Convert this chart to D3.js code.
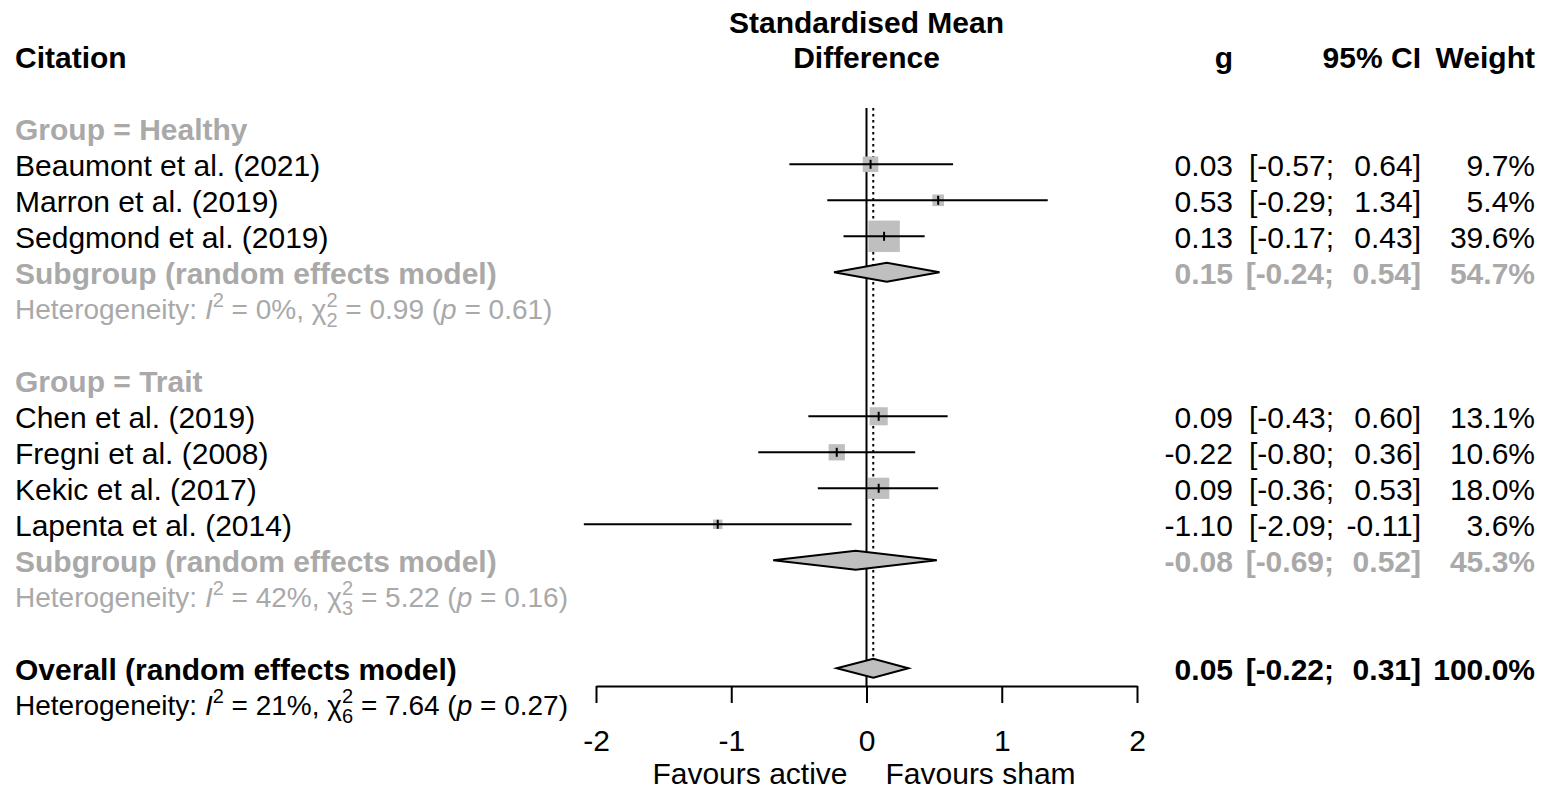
<!DOCTYPE html>
<html lang="en">
<head>
    <meta charset="UTF-8">
    <title>Forest plot</title>
    <script src="https://d3js.org/d3.v7.min.js"></script>
    <style>
        body { margin: 0; background: #fff; }
        text { font-family: "Liberation Sans", Arial, sans-serif; white-space: pre; }
    </style>
</head>
<body>
<script>
    const width = 1547
    const height = 791

    // study level data
    const citations = ["Beaumont et al. (2021)", "Marron et al. (2019)", "Sedgmond et al. (2019)",
        "Chen et al. (2019)", "Fregni et al. (2008)", "Kekic et al. (2017)", "Lapenta et al. (2014)"]
    const studyGroup = ["Healthy", "Healthy", "Healthy", "Trait", "Trait", "Trait", "Trait"]
    const g = [0.03, 0.53, 0.13, 0.09, -0.22, 0.09, -1.10]
    const ciLower = [-0.57, -0.29, -0.17, -0.43, -0.80, -0.36, -2.09]
    const ciUpper = [0.64, 1.34, 0.43, 0.60, 0.36, 0.53, -0.11]
    const weights = [9.7, 5.4, 39.6, 13.1, 10.6, 18.0, 3.6]

    // subgroup summaries
    const subgroups = ["Healthy", "Trait"]
    const subG = [0.15, -0.08]
    const subLower = [-0.24, -0.69]
    const subUpper = [0.54, 0.52]
    const subWeight = [54.7, 45.3]

    // overall
    const overallG = 0.05
    const overallLower = -0.22
    const overallUpper = 0.31

    // heterogeneity: Healthy, Trait, Overall
    const hetI2 = ["0%", "42%", "21%"]
    const hetDf = ["2", "3", "6"]
    const hetQ = ["0.99", "5.22", "7.64"]
    const hetP = ["0.61", "0.16", "0.27"]

    const xTicks = [-2, -1, 0, 1, 2]

    const grey = "#a9a9a9"
    const boxFill = "#bfbfbf"
    const fs = 30
    const fsHet = 28
    const lw = 2

    let svg = d3.select("body").append("svg")
        .attr("width", width)
        .attr("height", height)
        .attr("viewBox", `0 0 ${width} ${height}`)

    const x = d3.scaleLinear().domain([-2, 2]).range([596, 1137])
    const y = d3.scaleLinear().domain([0, 18]).range([56.3, 704.3])
    const boxSize = d3.scaleSqrt().domain([0, 100]).range([0, 50])

    // build the rows
    let rows = []
    rows.push({type: "header", i: 0})
    let r = 2
    subgroups.forEach((sg, k) => {
        rows.push({type: "group", i: r++, label: "Group = " + sg})
        citations.forEach((c, j) => {
            if (studyGroup[j] === sg) rows.push({type: "study", i: r++, j: j})
        })
        rows.push({type: "sub", i: r++, k: k})
        rows.push({type: "het", i: r++, k: k, col: grey})
        r++
    })
    rows.push({type: "overall", i: r++})
    rows.push({type: "het", i: r++, k: 2, col: "#000"})

    const xLeft = 15
    const xG = 1233
    const xLo = 1334
    const xUp = 1421
    const xW = 1535

    function txt(px, py, s, opts = {}) {
        return svg.append("text")
            .attr("x", px).attr("y", py)
            .attr("font-size", opts.size || fs)
            .attr("font-weight", opts.bold ? "bold" : "normal")
            .attr("fill", opts.col || "#000")
            .attr("text-anchor", opts.anchor || "start")
            .text(s)
    }

    function numCols(row, est, lo, up, w, opts) {
        const b = y(row) + 11.5
        txt(xG, b, est.toFixed(2), {...opts, anchor: "end"})
        txt(xLo, b, "[" + lo.toFixed(2) + ";", {...opts, anchor: "end"})
        txt(xUp, b, up.toFixed(2) + "]", {...opts, anchor: "end"})
        txt(xW, b, w.toFixed(1) + "%", {...opts, anchor: "end"})
    }

    function diamond(row, est, lo, up) {
        const cy = y(row), h = 9.5
        svg.append("polygon")
            .attr("points", [[x(lo), cy], [x(est), cy - h], [x(up), cy], [x(est), cy + h]].map(p => p.join(",")).join(" "))
            .attr("fill", boxFill)
            .attr("stroke", "#000")
            .attr("stroke-width", lw)
    }

    function hetText(row, k, col) {
        const t = svg.append("text")
            .attr("x", xLeft).attr("y", y(row) + 11)
            .attr("font-size", fsHet)
            .attr("fill", col)
        t.append("tspan").text("Heterogeneity: ")
        t.append("tspan").attr("font-style", "italic").text("I")
        t.append("tspan").attr("font-size", 20).attr("dy", -12).text("2")
        t.append("tspan").attr("dy", 12).text(" = " + hetI2[k] + ", χ")
        t.append("tspan").attr("font-size", 20).attr("dy", -12).text("2")
        t.append("tspan").attr("font-size", 20).attr("dx", -11.1).attr("dy", 20).text(hetDf[k])
        t.append("tspan").attr("dy", -8).text(" = " + hetQ[k] + " (")
        t.append("tspan").attr("font-style", "italic").text("p")
        t.append("tspan").text(" = " + hetP[k] + ")")
    }

    // reference lines
    svg.append("line")
        .attr("x1", x(0)).attr("x2", x(0))
        .attr("y1", 108).attr("y2", 686)
        .attr("stroke", "#000").attr("stroke-width", lw)
    svg.append("line")
        .attr("x1", x(overallG)).attr("x2", x(overallG))
        .attr("y1", 108).attr("y2", y(17) - 9.5)
        .attr("stroke", "#000").attr("stroke-width", lw)
        .attr("stroke-dasharray", "2.5,3.5")

    // header
    txt(x(0), 33, "Standardised Mean", {bold: true, anchor: "middle"})
    txt(x(0), y(0) + 12, "Difference", {bold: true, anchor: "middle"})
    txt(xLeft, y(0) + 12, "Citation", {bold: true})
    txt(xG, y(0) + 12, "g", {bold: true, anchor: "end"})
    txt(xUp, y(0) + 12, "95% CI", {bold: true, anchor: "end"})
    txt(xW, y(0) + 12, "Weight", {bold: true, anchor: "end"})

    rows.forEach(row => {
        const b = y(row.i) + 11.5
        if (row.type === "group") {
            txt(xLeft, b, row.label, {bold: true, col: grey})
        } else if (row.type === "study") {
            const j = row.j, cy = y(row.i), s = boxSize(weights[j])
            txt(xLeft, b, citations[j])
            numCols(row.i, g[j], ciLower[j], ciUpper[j], weights[j], {})
            svg.append("rect")
                .attr("x", x(g[j]) - s / 2).attr("y", cy - s / 2)
                .attr("width", s).attr("height", s)
                .attr("fill", boxFill)
            svg.append("line")
                .attr("x1", x(ciLower[j])).attr("x2", x(ciUpper[j]))
                .attr("y1", cy).attr("y2", cy)
                .attr("stroke", "#000").attr("stroke-width", lw)
            svg.append("line")
                .attr("x1", x(g[j])).attr("x2", x(g[j]))
                .attr("y1", cy - 4.5).attr("y2", cy + 4.5)
                .attr("stroke", "#000").attr("stroke-width", 2)
        } else if (row.type === "sub") {
            const k = row.k
            txt(xLeft, b, "Subgroup (random effects model)", {bold: true, col: grey})
            numCols(row.i, subG[k], subLower[k], subUpper[k], subWeight[k], {bold: true, col: grey})
            diamond(row.i, subG[k], subLower[k], subUpper[k])
        } else if (row.type === "het") {
            hetText(row.i, row.k, row.col)
        } else if (row.type === "overall") {
            txt(xLeft, b, "Overall (random effects model)", {bold: true})
            numCols(row.i, overallG, overallLower, overallUpper, 100, {bold: true})
            diamond(row.i, overallG, overallLower, overallUpper)
        }
    })

    // x axis
    let gAxis = svg.append("g")
        .attr("transform", "translate(0,686)")
        .call(d3.axisBottom(x).tickValues(xTicks).tickSize(17).tickSizeOuter(0).tickPadding(27)
            .tickFormat(d3.format("d")))
    gAxis.selectAll("text")
        .attr("font-size", fs)
        .attr("font-family", "Liberation Sans, Arial, sans-serif")
        .attr("fill", "#000")
        .text(d => d < 0 ? "-" + Math.abs(d) : d)
    gAxis.selectAll("path, line").attr("stroke", "#000").attr("stroke-width", lw)

    txt(x(0) - 19, 784, "Favours active", {anchor: "end"})
    txt(x(0) + 19, 784, "Favours sham")
</script>
</body>
</html>
